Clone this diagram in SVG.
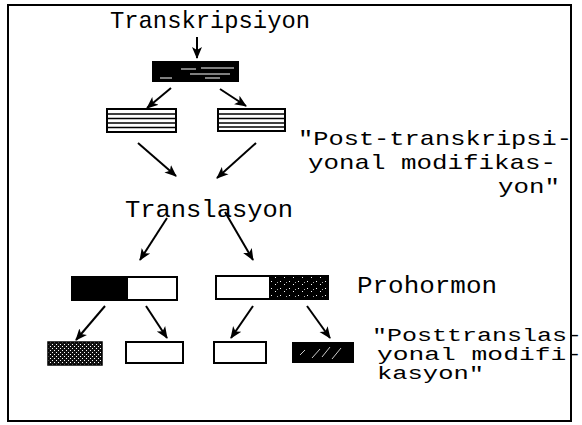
<svg xmlns="http://www.w3.org/2000/svg" width="582" height="425" viewBox="0 0 582 425">
<defs>
<style>
.t{font-family:"Liberation Mono","DejaVu Sans Mono",monospace;fill:#000}
.big{font-size:24px}
.lbl{font-size:21px}
.sm{font-size:18px}
.ar{stroke:#000;stroke-width:2;fill:none;marker-end:url(#ah)}
.box{stroke:#000;stroke-width:2}
</style>
<marker id="ah" markerUnits="userSpaceOnUse" markerWidth="12" markerHeight="12" viewBox="0 0 12 12" refX="11" refY="6" orient="auto">
<path d="M0,1 L12,6 L0,11 L3,6 Z" fill="#000"/>
</marker>
<pattern id="cross" width="4" height="4" patternUnits="userSpaceOnUse">
<rect width="4" height="4" fill="#111"/>
<rect x="0" y="0" width="1" height="1" fill="#fff"/>
<rect x="2" y="2" width="1" height="1" fill="#fff"/>
</pattern>
<pattern id="stip" width="9" height="7" patternUnits="userSpaceOnUse">
<rect width="9" height="7" fill="#000"/>
<rect x="1" y="1" width="1" height="1" fill="#fff"/>
<rect x="5" y="4" width="1" height="1" fill="#fff"/>
<rect x="7" y="2" width="1" height="1" fill="#aaa"/>
</pattern>
</defs>
<rect x="8" y="5" width="563" height="416" fill="#fff" stroke="#000" stroke-width="2"/>
<g id="connectors">
<line class="ar" x1="197" y1="37" x2="197" y2="58"/>
<line class="ar" x1="171" y1="88" x2="147" y2="108"/>
<line class="ar" x1="220" y1="89" x2="246" y2="106"/>
<line class="ar" x1="138" y1="143" x2="176" y2="176"/>
<line class="ar" x1="256" y1="143" x2="217" y2="178"/>
<line class="ar" x1="167" y1="218" x2="140" y2="260"/>
<line class="ar" x1="225" y1="212" x2="253" y2="260"/>
<line class="ar" x1="105" y1="306" x2="76" y2="340"/>
<line class="ar" x1="146" y1="306" x2="167" y2="338"/>
<line class="ar" x1="253" y1="306" x2="231" y2="338"/>
<line class="ar" x1="307" y1="306" x2="330" y2="338"/>
</g>
<g id="transkripsiyon"><text class="t big" x="110" y="28" textLength="200" lengthAdjust="spacingAndGlyphs">Transkripsiyon</text></g>
<g id="gene">
<rect x="152" y="61" width="87" height="21" fill="#000"/>
<g stroke="#fff" stroke-width="1">
<line x1="181" y1="69" x2="196" y2="69"/><line x1="201" y1="68" x2="234" y2="68"/>
<line x1="190" y1="74" x2="230" y2="74"/><line x1="160" y1="78" x2="172" y2="78"/>
<line x1="205" y1="78" x2="220" y2="78"/>
</g>
</g>
<g id="mrna-left">
<rect class="box" x="107" y="109" width="69" height="23" fill="#fff"/>
<g stroke="#000" stroke-width="1.6"><line x1="107" y1="114" x2="176" y2="114"/><line x1="107" y1="118.5" x2="176" y2="118.5"/><line x1="107" y1="123" x2="176" y2="123"/><line x1="107" y1="127.5" x2="176" y2="127.5"/></g>
</g>
<g id="mrna-right">
<rect class="box" x="218" y="109" width="67" height="22" fill="#fff"/>
<g stroke="#000" stroke-width="1.6"><line x1="218" y1="114" x2="285" y2="114"/><line x1="218" y1="118.5" x2="285" y2="118.5"/><line x1="218" y1="123" x2="285" y2="123"/><line x1="218" y1="127" x2="285" y2="127"/></g>
</g>
<g id="label-post-transkripsiyonal">
<text class="t lbl" x="298" y="145" textLength="274" lengthAdjust="spacingAndGlyphs">"Post-transkripsi-</text>
<text class="t lbl" x="308" y="169" textLength="248" lengthAdjust="spacingAndGlyphs">yonal modifikas-</text>
<text class="t lbl" x="498" y="193" textLength="62" lengthAdjust="spacingAndGlyphs">yon"</text>
</g>
<g id="translasyon"><text class="t big" x="125" y="217" textLength="168" lengthAdjust="spacingAndGlyphs">Translasyon</text></g>
<g id="prohormon-left">
<rect class="box" x="72" y="277" width="105" height="23" fill="#fff"/>
<rect x="72" y="277" width="56" height="23" fill="#000"/>
</g>
<g id="prohormon-right">
<rect class="box" x="216" y="276" width="112" height="23" fill="#fff"/>
<rect x="269" y="276" width="59" height="23" fill="url(#stip)"/>
<rect x="216" y="276" width="112" height="23" fill="none" stroke="#000" stroke-width="2"/>
</g>
<g id="label-prohormon"><text class="t big" x="357" y="293" textLength="140" lengthAdjust="spacingAndGlyphs">Prohormon</text></g>
<g id="peptide-1"><rect x="48" y="342" width="54" height="23" fill="url(#cross)" stroke="#000" stroke-width="1.5"/></g>
<g id="peptide-2"><rect class="box" x="126" y="342" width="57" height="21" fill="#fff"/></g>
<g id="peptide-3"><rect class="box" x="214" y="342" width="52" height="21" fill="#fff"/></g>
<g id="peptide-4">
<rect x="292" y="342" width="62" height="21" fill="#000"/>
<g stroke="#fff" stroke-width="0.8"><line x1="312" y1="358" x2="320" y2="349"/><line x1="322" y1="357" x2="330" y2="347"/><line x1="332" y1="359" x2="341" y2="348"/><line x1="300" y1="355" x2="305" y2="350"/></g>
</g>
<g id="label-posttranslasyonal">
<text class="t sm" x="372" y="341" textLength="210" lengthAdjust="spacingAndGlyphs">"Posttranslas-</text>
<text class="t sm" x="377" y="360" textLength="205" lengthAdjust="spacingAndGlyphs">yonal modifi-</text>
<text class="t sm" x="377" y="379" textLength="107" lengthAdjust="spacingAndGlyphs">kasyon"</text>
</g>
</svg>
